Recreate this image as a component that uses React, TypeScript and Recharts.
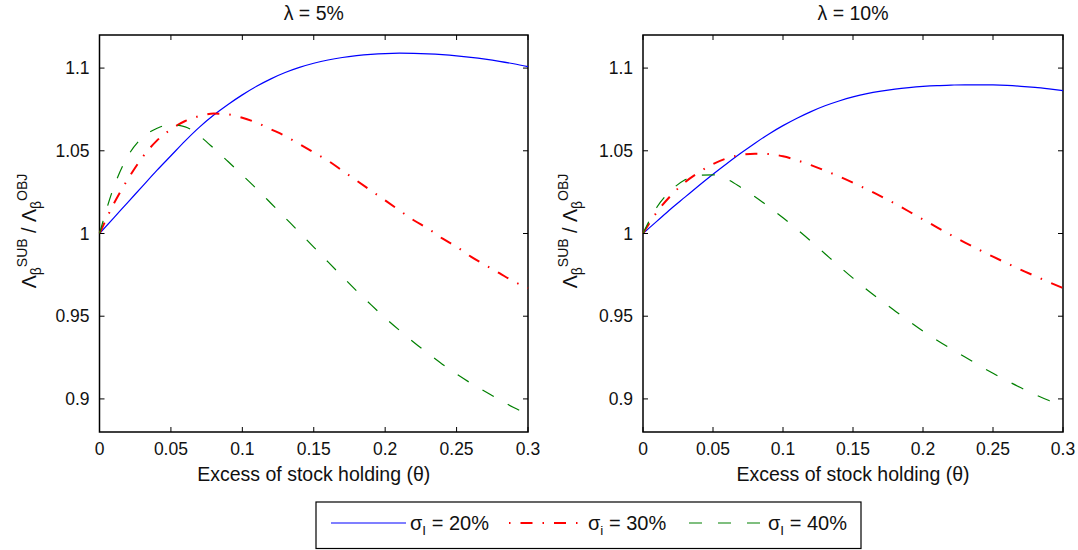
import React from "react";
import { LineChart, Line, XAxis, YAxis, ReferenceArea } from "recharts";

// θ grid (excess of stock holding)
const THETA = [
  0, 0.01, 0.02, 0.03, 0.04, 0.05, 0.06, 0.07, 0.08, 0.09, 0.1,
  0.11, 0.12, 0.13, 0.14, 0.15, 0.16, 0.17, 0.18, 0.19, 0.2,
  0.21, 0.22, 0.23, 0.24, 0.25, 0.26, 0.27, 0.28, 0.29, 0.3,
];

// λ = 5%
const L5_SIGMA20 = [
  1.0, 1.0095, 1.019, 1.0285, 1.038, 1.047, 1.056, 1.0643, 1.0716, 1.078, 1.0838,
  1.089, 1.0935, 1.0973, 1.1004, 1.1029, 1.1049, 1.1064, 1.1075, 1.1083, 1.1088,
  1.109, 1.1089, 1.1086, 1.1081, 1.1074, 1.1065, 1.1054, 1.1041, 1.1026, 1.1009,
];
const L5_SIGMA30 = [
  1.0, 1.018, 1.033, 1.046, 1.056, 1.063, 1.068, 1.071, 1.0725, 1.072, 1.07,
  1.067, 1.063, 1.059, 1.054, 1.049, 1.044, 1.038, 1.032, 1.026, 1.02,
  1.014, 1.008, 1.003, 0.997, 0.992, 0.986, 0.981, 0.976, 0.971, 0.967,
];
const L5_SIGMA40 = [
  1.0, 1.028, 1.047, 1.058, 1.0635, 1.0658, 1.0645, 1.059, 1.0515, 1.0435, 1.0353,
  1.027, 1.0183, 1.0095, 1.0007, 0.9918, 0.9828, 0.974, 0.9653, 0.957, 0.949,
  0.9415, 0.9343, 0.9275, 0.921, 0.915, 0.9095, 0.9045, 0.8995, 0.8948, 0.8905,
];

// λ = 10%
const L10_SIGMA20 = [
  1.0, 1.0075, 1.015, 1.022, 1.029, 1.0358, 1.0423, 1.0486, 1.0546, 1.0602, 1.0652,
  1.0697, 1.0737, 1.0772, 1.0801, 1.0826, 1.0846, 1.0861, 1.0873, 1.0882, 1.0889,
  1.0894, 1.0897, 1.0899, 1.0899, 1.0898, 1.0895, 1.089, 1.0883, 1.0874, 1.0864,
];
const L10_SIGMA30 = [
  1.0, 1.013, 1.023, 1.031, 1.037, 1.042, 1.0455, 1.0475, 1.0482, 1.048, 1.0467,
  1.0443, 1.0413, 1.038, 1.0345, 1.0307, 1.0267, 1.0225, 1.018, 1.0133, 1.0085,
  1.0037, 0.999, 0.9945, 0.9902, 0.986, 0.982, 0.978, 0.9743, 0.9706, 0.967,
];
const L10_SIGMA40 = [
  1.0, 1.016, 1.026, 1.0325, 1.0352, 1.0355, 1.0328, 1.0278, 1.0222, 1.016, 1.0095,
  1.0025, 0.9953, 0.9878, 0.9803, 0.973, 0.966, 0.9595, 0.9532, 0.947, 0.941,
  0.9355, 0.9303, 0.9253, 0.9203, 0.9155, 0.911, 0.9067, 0.9027, 0.899, 0.8955,
];

const X_TICKS = [0, 0.05, 0.1, 0.15, 0.2, 0.25, 0.3];
const Y_TICKS = [0.9, 0.95, 1, 1.05, 1.1];
const TITLES = ["λ = 5%", "λ = 10%"];
const SIGMA_LABELS = [
  { sub: "I", rest: " = 20%" },
  { sub: "i", rest: " = 30%" },
  { sub: "I", rest: " = 40%" },
];

const FONT = '"Liberation Sans", Arial, Helvetica, sans-serif';
const TEXT = "#111";
const PLOT_TOP = 35;
const PLOT_BOTTOM = 432;
const CHART_H = 495;

const SERIES = [
  { key: "s20", stroke: "#0000ff", width: 1.2, dash: undefined },
  { key: "s30", stroke: "#ff0000", width: 2, dash: "12 10 1.5 10" },
  { key: "s40", stroke: "#008000", width: 1.2, dash: "13 16" },
];

function rows(a: number[], b: number[], c: number[]) {
  return THETA.map((t, i) => ({ theta: t, s20: a[i], s30: b[i], s40: c[i] }));
}

const PANELS = [
  { left: 0, width: 540, plotLeft: 99.5, plotRight: 528, labelX: 36, data: rows(L5_SIGMA20, L5_SIGMA30, L5_SIGMA40) },
  { left: 540, width: 538, plotLeft: 103, plotRight: 523, labelX: 37, data: rows(L10_SIGMA20, L10_SIGMA30, L10_SIGMA40) },
];

const XTick = (props: any) => {
  const { x, payload } = props;
  return (
    <g>
      <line x1={x} x2={x} y1={PLOT_BOTTOM} y2={PLOT_BOTTOM - 5} stroke="#000" />
      <line x1={x} x2={x} y1={PLOT_TOP} y2={PLOT_TOP + 5} stroke="#000" />
      <text x={x} y={PLOT_BOTTOM + 23} textAnchor="middle" fontSize={17.5} fill={TEXT} fontFamily={FONT}>
        {String(payload.value)}
      </text>
    </g>
  );
};

const makeYTick = (pl: number, pr: number) => (props: any) => {
  const { y, payload } = props;
  return (
    <g>
      <line x1={pl} x2={pl + 5} y1={y} y2={y} stroke="#000" />
      <line x1={pr - 5} x2={pr} y1={y} y2={y} stroke="#000" />
      <text x={pl - 10} y={y + 6} textAnchor="end" fontSize={17.5} fill={TEXT} fontFamily={FONT}>
        {String(payload.value)}
      </text>
    </g>
  );
};

function Panel({ p, title }: { p: (typeof PANELS)[number]; title: string }) {
  const cx = (p.plotLeft + p.plotRight) / 2;
  return (
    <div style={{ position: "absolute", left: p.left, top: 0, width: p.width, height: CHART_H }}>
      <LineChart
        width={p.width}
        height={CHART_H}
        data={p.data}
        margin={{ top: PLOT_TOP, bottom: CHART_H - PLOT_BOTTOM - 30, left: p.plotLeft - 60, right: p.width - p.plotRight }}
      >
        <XAxis
          dataKey="theta"
          type="number"
          domain={[0, 0.3]}
          ticks={X_TICKS}
          interval={0}
          axisLine={false}
          tickLine={false}
          height={30}
          tick={XTick}
        />
        <YAxis
          type="number"
          domain={[0.88, 1.12]}
          ticks={Y_TICKS}
          interval={0}
          axisLine={false}
          tickLine={false}
          width={60}
          tick={makeYTick(p.plotLeft, p.plotRight)}
        />
        <ReferenceArea x1={0} x2={0.3} y1={0.88} y2={1.12} fill="none" stroke="#000" strokeWidth={1.5} ifOverflow="visible" />
        {SERIES.map((s) => (
          <Line
            key={s.key}
            type="monotone"
            dataKey={s.key}
            stroke={s.stroke}
            strokeWidth={s.width}
            strokeDasharray={s.dash}
            dot={false}
            activeDot={false}
            isAnimationActive={false}
          />
        ))}
      </LineChart>
      <svg width={p.width} height={CHART_H} style={{ position: "absolute", left: 0, top: 0, pointerEvents: "none" }}>
        <text x={cx} y={20} textAnchor="middle" fontSize={19.5} fill={TEXT} fontFamily={FONT}>
          {title}
        </text>
        <text x={cx} y={481} textAnchor="middle" fontSize={19.5} fill={TEXT} fontFamily={FONT}>
          Excess of stock holding (θ)
        </text>
        <text
          transform={`translate(${p.labelX}, 231) rotate(-90)`}
          textAnchor="middle"
          fontSize={19.5}
          fill={TEXT}
          fontFamily={FONT}
        >
          <tspan>Λ</tspan>
          <tspan dy={5} fontSize={14}>β</tspan>
          <tspan dy={-14} fontSize={14}>SUB</tspan>
          <tspan dy={9}> / Λ</tspan>
          <tspan dy={5} fontSize={14}>β</tspan>
          <tspan dy={-14} fontSize={14}>OBJ</tspan>
        </text>
      </svg>
    </div>
  );
}

function LegendBox() {
  const starts = [331, 509, 689];
  return (
    <svg width={1078} height={550} style={{ position: "absolute", left: 0, top: 0, pointerEvents: "none" }}>
      <rect x={316} y={502} width={545} height={46.5} fill="#fff" stroke="#000" strokeWidth={1.2} />
      {SERIES.map((s, i) => (
        <g key={s.key}>
          <line
            x1={starts[i]}
            x2={starts[i] + 75}
            y1={523}
            y2={523}
            stroke={s.stroke}
            strokeWidth={s.width}
            strokeDasharray={s.dash}
            strokeDashoffset={i === 1 ? 22 : 0}
          />
          <text x={starts[i] + 79} y={530} fontSize={20} fill={TEXT} fontFamily={FONT}>
            <tspan>σ</tspan>
            <tspan dy={5} fontSize={13.5}>{SIGMA_LABELS[i].sub}</tspan>
            <tspan dy={-5}>{SIGMA_LABELS[i].rest}</tspan>
          </text>
        </g>
      ))}
    </svg>
  );
}

export default function App() {
  return (
    <div style={{ position: "relative", width: 1078, height: 550, background: "#fff", fontFamily: FONT }}>
      <style>{"body{margin:0}"}</style>
      {PANELS.map((p, i) => (
        <Panel key={i} p={p} title={TITLES[i]} />
      ))}
      <LegendBox />
    </div>
  );
}
